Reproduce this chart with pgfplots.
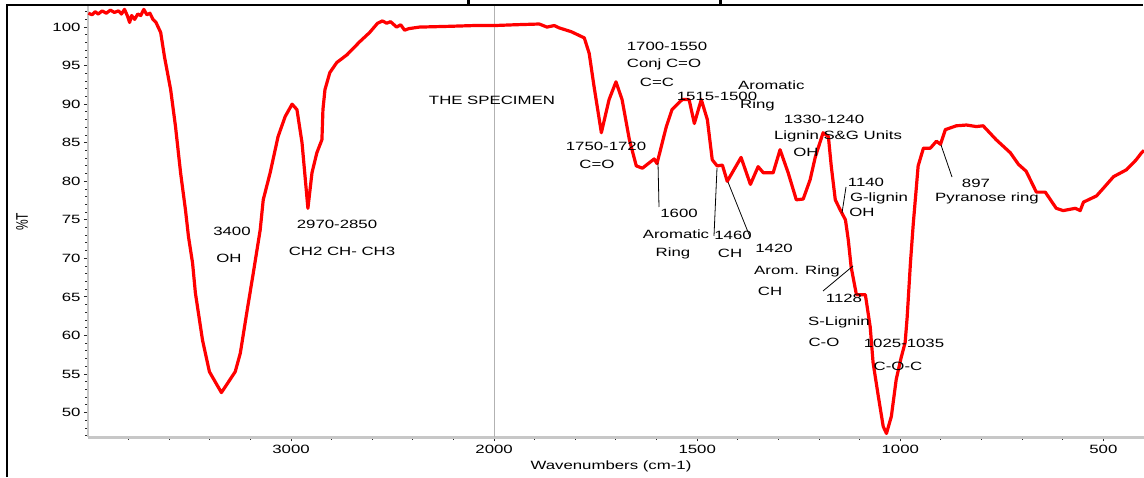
\documentclass[border=0pt]{standalone}
\usepackage{fontspec}
\setmainfont{Liberation Sans}[FakeStretch=1.4]
\newfontfamily\plainsans{Liberation Sans}
\usepackage{graphicx}
\usepackage{pgfplots}
\usepackage{pgfplotstable}
\pgfplotsset{compat=1.18}

\pgfplotstableread{
w T
3998 101.8
3980 101.6
3965 102.0
3950 101.7
3930 102.1
3910 101.8
3890 102.2
3870 101.9
3850 102.1
3835 101.7
3820 102.3
3805 101.4
3795 100.6
3785 101.5
3770 101.0
3755 101.7
3740 101.5
3725 102.3
3710 101.6
3695 101.8
3680 101.0
3665 100.6
3642 99.3
3623 96.1
3593 91.9
3569 87.1
3544 81.1
3520 76.3
3505 72.8
3485 69.4
3471 65.5
3436 59.4
3402 55.3
3343 52.6
3275 55.3
3250 57.7
3216 63.3
3186 68.1
3152 73.7
3137 77.6
3103 81.1
3064 85.8
3029 88.4
2995 90.0
2971 89.3
2946 85.0
2931 80.6
2917 76.5
2897 81.1
2873 83.7
2848 85.4
2843 89.3
2833 91.9
2809 94.1
2775 95.4
2725 96.4
2662 98.1
2613 99.3
2574 100.5
2550 100.8
2529 100.5
2510 100.7
2480 100.0
2460 100.3
2441 99.6
2420 99.8
2368 100.0
2220 100.1
2100 100.2
2000 100.2
1950 100.3
1889 100.4
1870 100.0
1852 100.2
1840 99.9
1810 99.4
1778 98.6
1766 96.6
1754 92.3
1736 86.3
1717 90.6
1700 92.9
1685 90.6
1667 85.4
1650 82.0
1635 81.7
1618 82.4
1606 82.9
1599 82.3
1576 87.1
1562 89.3
1537 90.6
1520 90.6
1507 87.5
1490 90.6
1475 88.0
1463 82.8
1451 82.0
1438 82.1
1426 80.0
1392 83.1
1369 79.6
1350 81.9
1337 81.1
1313 81.1
1296 84.1
1276 81.1
1256 77.6
1239 77.7
1222 80.2
1209 83.2
1190 86.3
1177 85.8
1170 82.0
1160 77.6
1148 76.3
1135 75.0
1128 72.4
1121 68.9
1108 65.3
1086 65.3
1074 61.1
1067 56.5
1054 52.1
1042 48.2
1034 47.3
1022 49.5
1010 54.3
998 57.1
988 59.1
983 62.4
975 69.4
968 74.5
963 77.6
956 82.0
943 84.3
926 84.3
911 85.2
901 84.8
889 86.7
862 87.2
837 87.3
813 87.1
796 87.2
764 85.4
729 83.7
709 82.2
690 81.3
665 78.6
643 78.6
616 76.5
599 76.2
569 76.5
557 76.2
549 77.3
517 78.1
500 79.1
475 80.6
443 81.5
419 82.8
406 83.7
400 84.0
}\spectrum

\begin{document}
\begin{tikzpicture}[x=1pt,y=1pt,
  lab/.style={font=\fontsize{12}{14}\selectfont, inner sep=0pt, text height=8.6pt, text depth=0pt, anchor=center}]
\useasboundingbox (0,0) rectangle (1144,477);
\begin{axis}[
  at={(88pt,39.7pt)}, anchor=south west,
  scale only axis, width=1056pt, height=431.8pt,
  x coord trafo/.code={\pgfmathparse{ifthenelse(#1>2000,0.5*#1+1000,#1)}},
  x coord inv trafo/.code={\pgfmathparse{ifthenelse(#1>2000,2*#1-2000,#1)}},
  x dir=reverse,
  xmin=400, xmax=4000, ymin=46.8, ymax=102.8,
  axis x line*=bottom, axis y line*=left,
  axis line style={-, draw=black!22, line width=2.5pt},
  tick align=outside,
  tick style={black!85, line width=1pt},
  major tick length=4pt, minor tick length=2.5pt,
  xtick={500,1000,1500,2000,3000},
  xticklabels={500,1000,1500,2000,3000},
  minor xtick={600,700,800,900,1100,1200,1300,1400,1600,1700,1800,1900,2200,2400,2600,2800,3200,3400,3600,3800},
  ytick={50,55,60,65,70,75,80,85,90,95,100},
  minor ytick={47,48,49,51,52,53,54,56,57,58,59,61,62,63,64,66,67,68,69,71,72,73,74,76,77,78,79,81,82,83,84,86,87,88,89,91,92,93,94,96,97,98,99,101,102},
  /pgf/number format/assume math mode=true,
  ticklabel style={font=\fontsize{12}{14}\selectfont},
]
\addplot[black!30, line width=0.8pt] coordinates {(2000,46.8) (2000,102.8)};
\addplot[red, line width=3.2pt, line join=round] table[x=w, y=T] {\spectrum};
\end{axis}
% frame
\draw[line width=2.5pt] (7,0) -- (7,472) -- (1143,472);
\fill (466.5,472) rectangle (469.5,477);
\fill (718.5,472) rectangle (721.5,477);
% axis labels
\node[lab] at (611,12) {Wavenumbers (cm-1)};
\node[rotate=90, inner sep=0pt, font=\plainsans\fontsize{12}{14}\selectfont] at (22,255) {\scalebox{1}[1.4]{\%T}};
% annotations
\node[lab] at (492,377) {THE SPECIMEN};
\node[lab] at (232,246) {3400};
\node[lab] at (229,219) {OH};
\node[lab] at (337,253) {2970-2850};
\node[lab] at (342,226) {CH2 CH- CH3};
\node[lab] at (667,431) {1700-1550};
\node[lab] at (664,414) {Conj C=O};
\node[lab] at (657,395) {C=C};
\node[lab] at (717,381) {1515-1500};
\node[lab, anchor=west] at (738,392) {Aromatic};
\node[lab, anchor=west] at (740,373) {Ring};
\node[lab] at (606,331) {1750-1720};
\node[lab] at (597,313) {C=O};
\node[lab] at (679,264) {1600};
\node[lab] at (676,243) {Aromatic};
\node[lab] at (673,225) {Ring};
\node[lab] at (733,242) {1460};
\node[lab] at (730,224) {CH};
\node[lab] at (774,229) {1420};
\node[lab] at (797,207) {Arom. Ring};
\node[lab] at (770,186) {CH};
\node[lab] at (824,358) {1330-1240};
\node[lab] at (838,342) {Lignin S\&G Units};
\node[lab] at (806,325) {OH};
\node[lab] at (866,295) {1140};
\node[lab] at (879,280) {G-lignin};
\node[lab] at (862,265) {OH};
\node[lab] at (976,294) {897};
\node[lab] at (987,280) {Pyranose ring};
\node[lab] at (844,179) {1128};
\node[lab] at (839,156) {S-Lignin};
\node[lab] at (824,135) {C-O};
\node[lab] at (904,134) {1025-1035};
\node[lab] at (898,111) {C-O-C};
% leader lines
\draw[line width=0.8pt] (658,314) -- (659,270);
\draw[line width=0.8pt] (717,309) -- (714,241);
\draw[line width=0.8pt] (728,295) -- (750,240);
\draw[line width=0.8pt] (846,290) -- (842,264);
\draw[line width=0.8pt] (941,332) -- (952,300);
\draw[line width=0.8pt] (823,186) -- (853,211);
\end{tikzpicture}
\end{document}
